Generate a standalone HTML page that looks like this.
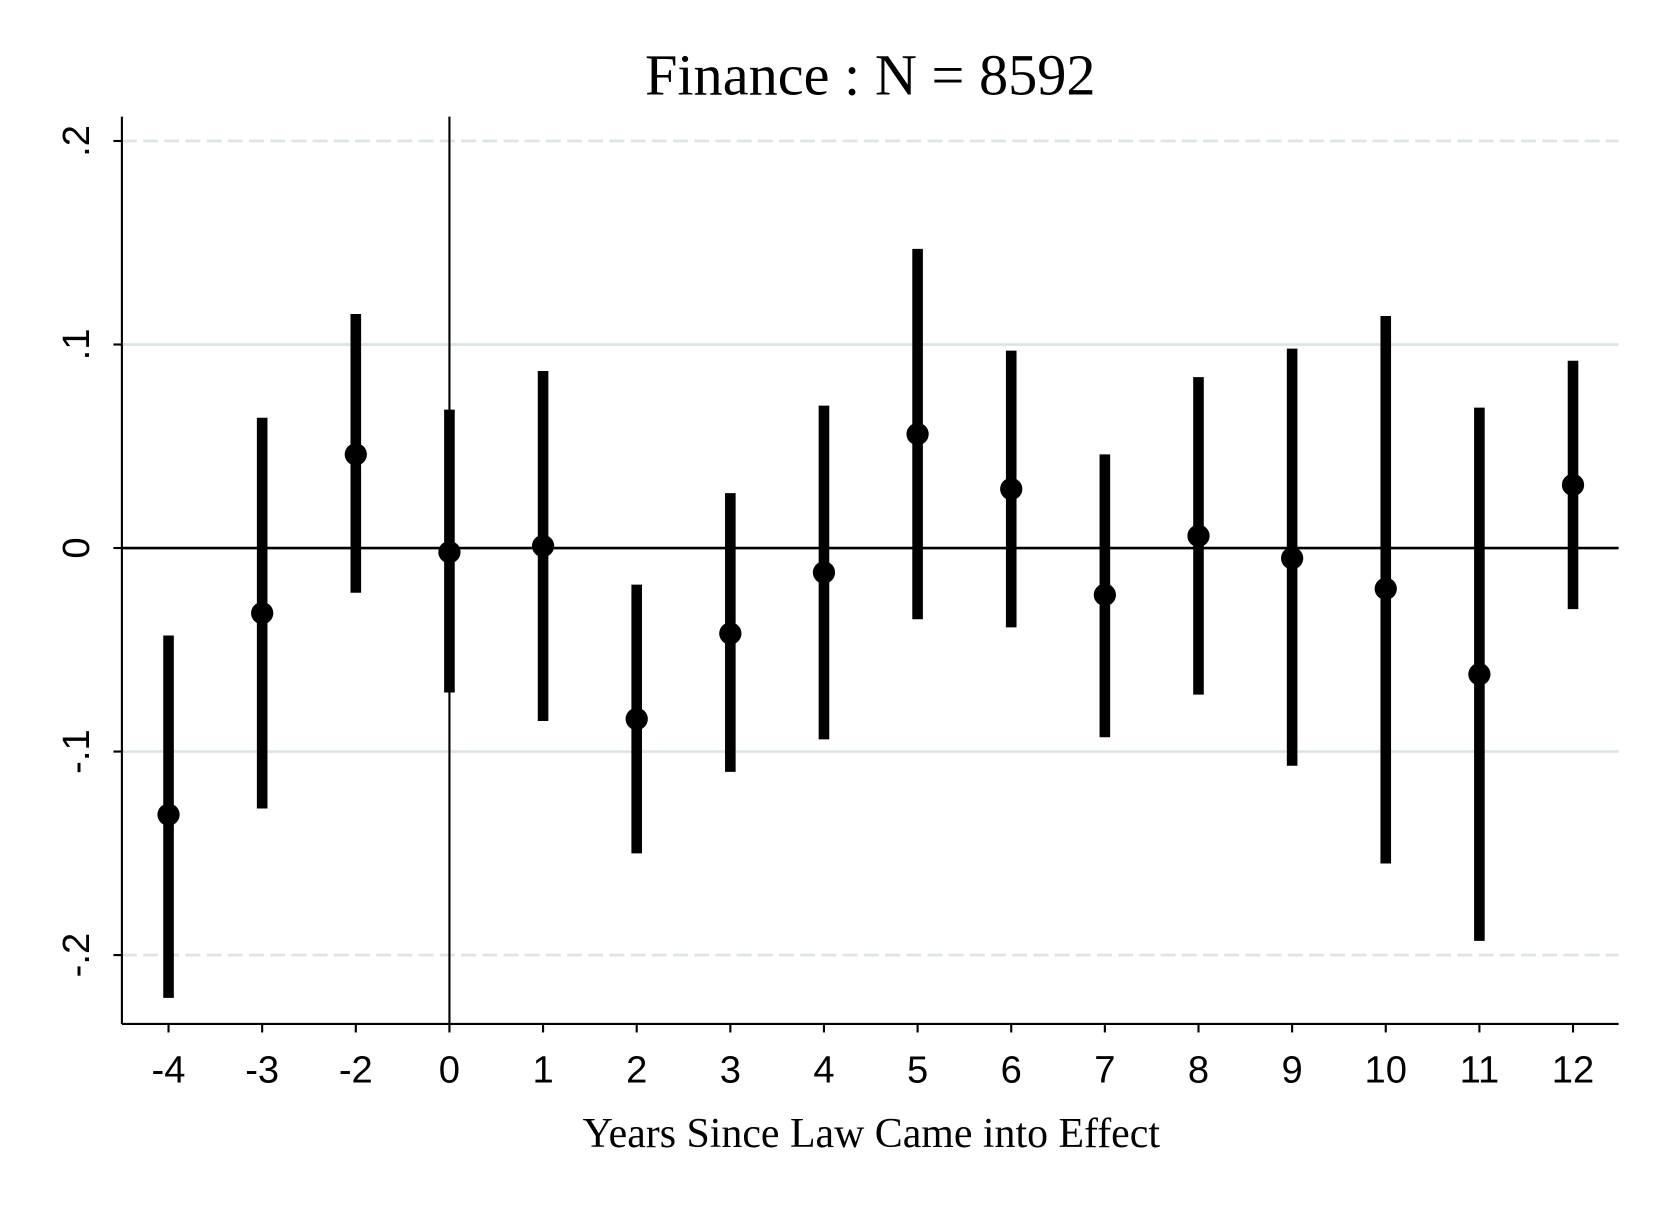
<!DOCTYPE html>
<html><head><meta charset="utf-8"><style>html,body{margin:0;padding:0;background:#fff}svg{display:block}</style></head>
<body>
<svg id="chart" width="1661" height="1208" viewBox="0 0 1567 1139.6" preserveAspectRatio="none" xmlns="http://www.w3.org/2000/svg">
<text x="821" y="89" text-anchor="middle" font-family="Liberation Serif, serif" font-size="55">Finance : N = 8592</text>
<text x="822" y="1082" text-anchor="middle" font-family="Liberation Serif, serif" font-size="39.5">Years Since Law Came into Effect</text>
<g id="grid"></g><g id="axes"></g><g id="marks"></g>
</svg>
<script>
const categories = ["-4","-3","-2","0","1","2","3","4","5","6","7","8","9","10","11","12"];
const estimates = [-0.131,-0.032,0.046,-0.002,0.001,-0.084,-0.042,-0.012,0.056,0.029,-0.023,0.006,-0.005,-0.020,-0.062,0.031];
const lowerCI = [-0.221,-0.128,-0.022,-0.071,-0.085,-0.150,-0.110,-0.094,-0.035,-0.039,-0.093,-0.072,-0.107,-0.155,-0.193,-0.030];
const upperCI = [-0.043,0.064,0.115,0.068,0.087,-0.018,0.027,0.070,0.147,0.097,0.046,0.084,0.098,0.114,0.069,0.092];
const yTicks = [-0.2,-0.1,0,0.1,0.2];
const yTickLabels = ["-.2","-.1","0",".1",".2"];
const NS="http://www.w3.org/2000/svg";
const L=115,R=1527,T=110,B=966;
const y=v=>517-v*1920;
const x=i=>159+i*(1484-159)/(categories.length-1);
function mk(tag,attrs,parent){const e=document.createElementNS(NS,tag);for(const k in attrs)e.setAttribute(k,attrs[k]);parent.appendChild(e);return e;}
const grid=document.getElementById('grid'),axes=document.getElementById('axes'),marks=document.getElementById('marks');
yTicks.forEach((v,i)=>{
  if(v!==0){const g=mk('line',{x1:L,x2:R,y1:y(v),y2:y(v),stroke:'#dbe5e3','stroke-width':2.5,'stroke-dasharray':Math.abs(v)>0.15?'14 6':'none'},grid);
  
  }
  const t=mk('line',{x1:L-8,x2:L,y1:y(v),y2:y(v),stroke:'#000','stroke-width':2},axes);
  
  
  const lb=mk('text',{x:0,y:0,transform:`translate(84,${y(v)}) rotate(-90)`,'text-anchor':'middle','font-family':'Liberation Sans, sans-serif','font-size':36},axes);
  lb.textContent=yTickLabels[i];
  
  
});
const zl=mk('line',{x1:L,x2:R,y1:y(0),y2:y(0),stroke:'#000','stroke-width':2.5},axes);


const vl=mk('line',{x1:x(3),x2:x(3),y1:T,y2:B,stroke:'#000','stroke-width':2},axes);


const ya=mk('line',{x1:L,x2:L,y1:T,y2:B,stroke:'#000','stroke-width':2},axes);


const xa=mk('line',{x1:L,x2:R,y1:B,y2:B,stroke:'#000','stroke-width':2},axes);


categories.forEach((c,i)=>{
  const t=mk('line',{x1:x(i),x2:x(i),y1:B,y2:B+8,stroke:'#000','stroke-width':2},axes);
  
  
  const lb=mk('text',{x:x(i),y:1021,'text-anchor':'middle','font-family':'Liberation Sans, sans-serif','font-size':36},axes);
  lb.textContent=c;
  
  
  const ci=mk('line',{x1:x(i),x2:x(i),y1:y(lowerCI[i]),y2:y(upperCI[i]),stroke:'#000','stroke-width':10},marks);
  
  
  const p=mk('circle',{cx:x(i),cy:y(estimates[i]),r:10.5,fill:'#000'},marks);
  
  
});
</script>
</body></html>
